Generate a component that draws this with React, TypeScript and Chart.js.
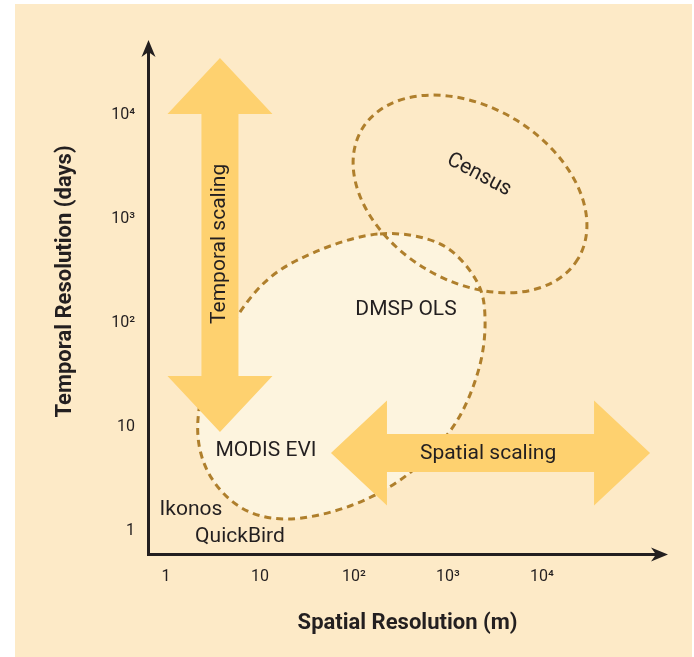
import React, { useEffect, useRef } from "react";
import { Chart, registerables } from "chart.js";

Chart.register(...registerables);

// ---- Axis data (log10 units) ----
const xTickValues = [0, 1, 2, 3, 4];
const xTickLabels = ["1", "10", "10²", "10³", "10⁴"];
const yTickValues = [0, 1, 2, 3, 4];
const yTickLabels = ["1", "10", "10²", "10³", "10⁴"];
const xRange = [-0.202, 5.34];
const yRange = [-0.231, 4.72];
const xTitle = "Spatial Resolution (m)";
const yTitle = "Temporal Resolution (days)";

// ---- DMSP OLS domain outline (log10 m, log10 days) ----
const dmspX = [2.277, 2.915, 3.298, 3.394, 3.319, 3.053, 2.564, 1.957, 1.287, 0.787, 0.436, 0.34, 0.521, 1.0, 1.564];
const dmspY = [2.856, 2.76, 2.413, 2.029, 1.529, 1.0, 0.538, 0.24, 0.115, 0.231, 0.587, 1.067, 1.692, 2.346, 2.673];

// ---- Census domain (ellipse centre and half-extents in decades) ----
const censusCenter = [3.234, 3.24];
const censusRadii = [1.34, 0.837];

// ---- Scaling arrows (log10 units) ----
const temporalArrowX = [0.574, 0.574];
const temporalArrowY = [0.952, 4.548];
const spatialArrowX = [1.755, 5.149];
const spatialArrowY = [0.75, 0.75];

// ---- Labels ----
const labelTexts = ["MODIS EVI", "Ikonos", "QuickBird", "DMSP OLS", "Census", "Temporal scaling", "Spatial scaling"];
const labelX = [1.064, 0.266, 0.787, 2.553, 3.33, 0.574, 3.426];
const labelY = [0.769, 0.202, -0.058, 2.13, 3.423, 2.76, 0.74];
const labelAngle = [0, 0, 0, 0, 28, -90, 0];

const FONT = "Roboto, 'Noto Sans', sans-serif";
const TEXT = "#231F20";
const ARROW = "#FED16F";
const BLOB = "#FDF4DE";
const DASH = "#AF7F2C";
const BG = "#FDEAC7";

function closedSpline(ctx: CanvasRenderingContext2D, pts: number[][]) {
  const n = pts.length;
  ctx.moveTo(pts[0][0], pts[0][1]);
  for (let i = 0; i < n; i++) {
    const p0 = pts[(i - 1 + n) % n];
    const p1 = pts[i];
    const p2 = pts[(i + 1) % n];
    const p3 = pts[(i + 2) % n];
    ctx.bezierCurveTo(
      p1[0] + (p2[0] - p0[0]) / 6,
      p1[1] + (p2[1] - p0[1]) / 6,
      p2[0] - (p3[0] - p1[0]) / 6,
      p2[1] - (p3[1] - p1[1]) / 6,
      p2[0],
      p2[1]
    );
  }
  ctx.closePath();
}

function doubleArrow(
  ctx: CanvasRenderingContext2D,
  ax: number, ay: number, bx: number, by: number,
  shaftHalf: number, headHalf: number, headLen: number
) {
  const len = Math.hypot(bx - ax, by - ay);
  const ux = (bx - ax) / len, uy = (by - ay) / len;
  const nx = -uy, ny = ux;
  const P = (x: number, y: number, along: number, side: number) => [x + ux * along + nx * side, y + uy * along + ny * side];
  const pts = [
    [ax, ay],
    P(ax, ay, headLen, headHalf),
    P(ax, ay, headLen, shaftHalf),
    P(bx, by, -headLen, shaftHalf),
    P(bx, by, -headLen, headHalf),
    [bx, by],
    P(bx, by, -headLen, -headHalf),
    P(bx, by, -headLen, -shaftHalf),
    P(ax, ay, headLen, -shaftHalf),
    P(ax, ay, headLen, -headHalf),
  ];
  ctx.beginPath();
  ctx.moveTo(pts[0][0], pts[0][1]);
  for (let i = 1; i < pts.length; i++) ctx.lineTo(pts[i][0], pts[i][1]);
  ctx.closePath();
  ctx.fill();
}

function axisHead(ctx: CanvasRenderingContext2D, tx: number, ty: number, ux: number, uy: number) {
  const nx = -uy, ny = ux;
  const back = 17, notch = 12, side = 7;
  ctx.beginPath();
  ctx.moveTo(tx, ty);
  ctx.lineTo(tx - ux * back + nx * side, ty - uy * back + ny * side);
  ctx.lineTo(tx - ux * notch, ty - uy * notch);
  ctx.lineTo(tx - ux * back - nx * side, ty - uy * back - ny * side);
  ctx.closePath();
  ctx.fill();
}

const diagramPlugin = {
  id: "diagram",
  afterDraw(chart: any) {
    const ctx: CanvasRenderingContext2D = chart.ctx;
    const xs = chart.scales.x;
    const ys = chart.scales.y;
    const px = (v: number) => xs.getPixelForValue(v);
    const py = (v: number) => ys.getPixelForValue(v);
    const area = chart.chartArea;
    ctx.save();

    // DMSP blob fill
    const blobPts = dmspX.map((x, i) => [px(x), py(dmspY[i])]);
    ctx.beginPath();
    closedSpline(ctx, blobPts);
    ctx.fillStyle = BLOB;
    ctx.fill();

    // dashed outlines
    ctx.setLineDash([7, 5]);
    ctx.lineWidth = 3;
    ctx.strokeStyle = DASH;
    ctx.beginPath();
    closedSpline(ctx, blobPts);
    ctx.stroke();

    const cx = px(censusCenter[0]);
    const cy = py(censusCenter[1]);
    const rx = px(censusCenter[0] + censusRadii[0]) - cx;
    const ry = cy - py(censusCenter[1] + censusRadii[1]);
    ctx.beginPath();
    ctx.ellipse(cx, cy, rx, ry, (31 * Math.PI) / 180, 0, Math.PI * 2);
    ctx.stroke();
    ctx.setLineDash([]);

    // scaling arrows
    ctx.fillStyle = ARROW;
    doubleArrow(ctx, px(temporalArrowX[0]), py(temporalArrowY[0]), px(temporalArrowX[1]), py(temporalArrowY[1]), 18.5, 52.5, 56);
    doubleArrow(ctx, px(spatialArrowX[0]), py(spatialArrowY[0]), px(spatialArrowX[1]), py(spatialArrowY[1]), 19, 52.5, 56);

    // axes
    ctx.strokeStyle = TEXT;
    ctx.fillStyle = TEXT;
    ctx.lineWidth = 3;
    const ax = area.left + 1.5;
    const ay = area.bottom - 0.5;
    ctx.beginPath();
    ctx.moveTo(ax, area.top + 12);
    ctx.lineTo(ax, ay);
    ctx.lineTo(area.right - 12, ay);
    ctx.stroke();
    axisHead(ctx, ax, area.top, 0, -1);
    axisHead(ctx, area.right, ay, 1, 0);

    // labels
    ctx.fillStyle = TEXT;
    ctx.font = `21px ${FONT}`;
    ctx.textAlign = "center";
    ctx.textBaseline = "middle";
    labelTexts.forEach((t, i) => {
      ctx.save();
      ctx.translate(px(labelX[i]), py(labelY[i]));
      ctx.rotate((labelAngle[i] * Math.PI) / 180);
      ctx.fillText(t, 0, 0);
      ctx.restore();
    });

    // axis titles
    ctx.font = `bold 22px ${FONT}`;
    ctx.fillText(xTitle, (area.left + area.right) / 2, area.bottom + 68);
    ctx.save();
    ctx.translate(50, (area.top + area.bottom) / 2 - 16);
    ctx.rotate(-Math.PI / 2);
    ctx.fillText(yTitle, 0, 0);
    ctx.restore();

    ctx.restore();
  },
};

export default function App() {
  const ref = useRef<HTMLCanvasElement>(null);
  useEffect(() => {
    if (!ref.current) return;
    const chart = new Chart(ref.current, {
      type: "scatter",
      data: { datasets: [] },
      options: {
        responsive: false,
        animation: false,
        devicePixelRatio: 1,
        layout: { padding: { left: 0, top: 36, right: 24, bottom: 0 } },
        plugins: { legend: { display: false }, tooltip: { enabled: false } },
        scales: {
          x: {
            type: "linear",
            min: xRange[0],
            max: xRange[1],
            grid: { display: false, drawTicks: false },
            border: { display: false },
            ticks: {
              padding: 12,
              autoSkip: false,
              maxRotation: 0,
              color: TEXT,
              font: { family: FONT, size: 16 },
              callback: (v: any) => {
                const i = xTickValues.indexOf(Number(v));
                return i >= 0 ? xTickLabels[i] : "";
              },
            },
            afterBuildTicks: (s: any) => {
              s.ticks = xTickValues.map((v) => ({ value: v }));
            },
            afterFit: (s: any) => {
              s.height = 102;
            },
          },
          y: {
            type: "linear",
            min: yRange[0],
            max: yRange[1],
            grid: { display: false, drawTicks: false },
            border: { display: false },
            ticks: {
              padding: 12,
              autoSkip: false,
              color: TEXT,
              font: { family: FONT, size: 16 },
              callback: (v: any) => {
                const i = yTickValues.indexOf(Number(v));
                return i >= 0 ? yTickLabels[i] : "";
              },
            },
            afterBuildTicks: (s: any) => {
              s.ticks = yTickValues.map((v) => ({ value: v }));
            },
            afterFit: (s: any) => {
              s.width = 132;
            },
          },
        },
      } as any,
      plugins: [diagramPlugin],
    });
    return () => chart.destroy();
  }, []);
  return (
    <div style={{ position: "absolute", left: 15, top: 4, width: 677, height: 653, background: BG }}>
      <canvas ref={ref} width={677} height={653} style={{ display: "block" }} />
    </div>
  );
}
